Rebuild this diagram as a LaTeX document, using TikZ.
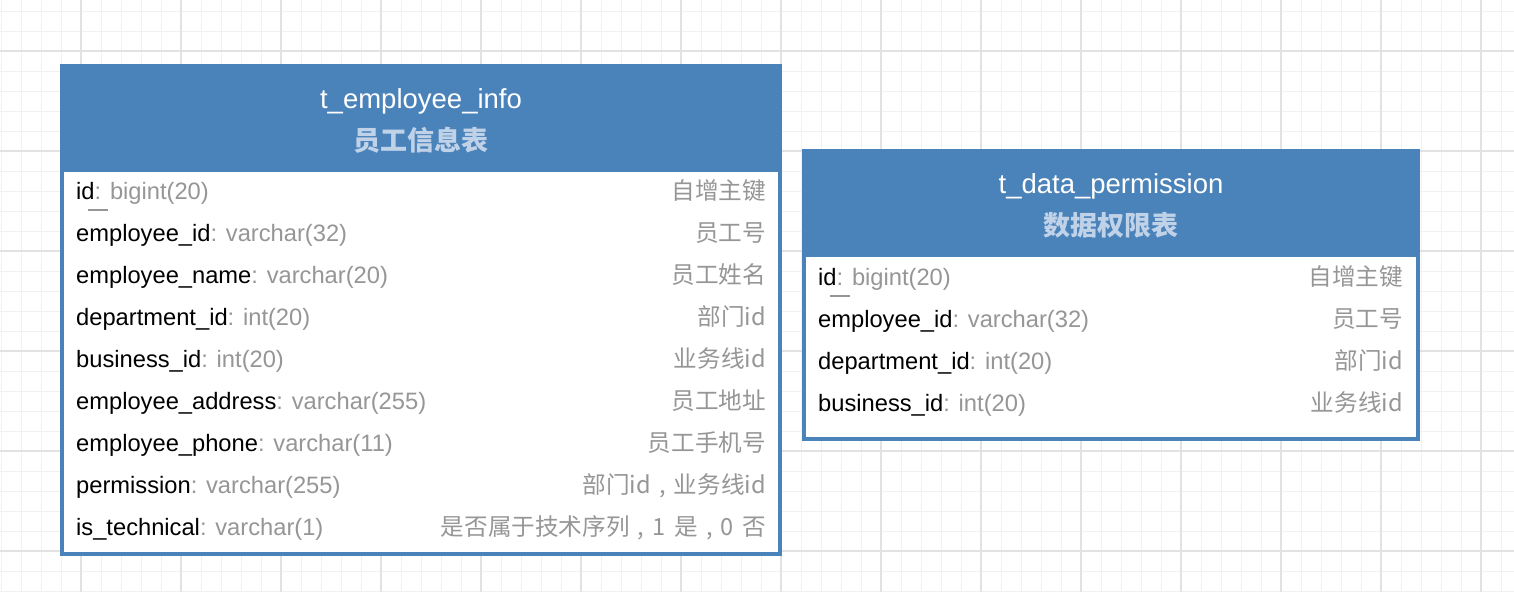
\documentclass[tikz,border=0pt]{standalone}
\usepackage{fontspec}
\setmainfont{Liberation Sans}
\newfontfamily\cjk{Noto Sans CJK SC}
\newcommand\cjkgap{\hspace{0.35em}}
\definecolor{hdrblue}{RGB}{74,130,186}
\definecolor{subblue}{RGB}{192,210,232}
\definecolor{typegray}{RGB}{150,150,150}
\definecolor{gridminor}{RGB}{241,241,241}
\definecolor{gridmajor}{RGB}{226,226,226}
\tikzset{
  frame/.style={fill=hdrblue, draw=none, inner sep=0pt, anchor=north west},
  bodybox/.style={fill=white, draw=none, inner sep=0pt, anchor=north west},
  field/.style={anchor=base west, inner sep=0pt, font=\fontsize{23.7}{28}\selectfont},
  note/.style={anchor=base east, inner sep=0pt, text=typegray, font=\fontsize{23.6}{28}\selectfont\cjk},
  ttl/.style={anchor=base, inner sep=0pt, text=white, font=\fontsize{27.5}{32}\selectfont},
  subttl/.style={anchor=center, inner sep=0pt, text=subblue, font=\fontsize{27}{32}\selectfont\cjk\bfseries},
  pkline/.style={draw=typegray, line width=1.5pt}
}
\begin{document}
\begin{tikzpicture}[x=1pt, y=-1pt]
\useasboundingbox (0,0) rectangle (1514,592);
\fill[white] (0,0) rectangle (1514,592);
% grid
\foreach \x in {1,21,...,1501} \draw[gridminor, line width=1pt] (\x,0) -- (\x,592);
\foreach \y in {11,31,...,591} \draw[gridminor, line width=1pt] (0,\y) -- (1514,\y);
\foreach \x in {81,181,...,1481} \draw[gridmajor, line width=1.5pt] (\x,0) -- (\x,592);
\foreach \y in {51,151,...,551} \draw[gridmajor, line width=1.5pt] (0,\y) -- (1514,\y);

% table 1
\node[frame, minimum width=722pt, minimum height=492pt] (t1) at (60,64) {};
\node[bodybox, minimum width=714pt, minimum height=380pt] (t1b) at (64,172) {};
\node[ttl] (t1t) at (421,108) {t\_employee\_info};
\node[subttl] (t1s) at (421,140) {员工信息表};

\node[field] (f1a) at (76,199) {id\textcolor{typegray}{: bigint(20)}};
\node[field] (f1b) at (76,241) {employee\_id\textcolor{typegray}{: varchar(32)}};
\node[field] (f1c) at (76,283) {employee\_name\textcolor{typegray}{: varchar(20)}};
\node[field] (f1d) at (76,325) {department\_id\textcolor{typegray}{: int(20)}};
\node[field] (f1e) at (76,367) {business\_id\textcolor{typegray}{: int(20)}};
\node[field] (f1f) at (76,409) {employee\_address\textcolor{typegray}{: varchar(255)}};
\node[field] (f1g) at (76,451) {employee\_phone\textcolor{typegray}{: varchar(11)}};
\node[field] (f1h) at (76,493) {permission\textcolor{typegray}{: varchar(255)}};
\node[field] (f1i) at (76,535) {is\_technical\textcolor{typegray}{: varchar(1)}};

\node[note] (n1a) at (766,199) {自增主键};
\node[note] (n1b) at (766,241) {员工号};
\node[note] (n1c) at (766,283) {员工姓名};
\node[note] (n1d) at (766,325) {部门id};
\node[note] (n1e) at (766,367) {业务线id};
\node[note] (n1f) at (766,409) {员工地址};
\node[note] (n1g) at (766,451) {员工手机号};
\node[note] (n1h) at (766,493) {部门id\cjkgap,\cjkgap 业务线id};
\node[note] (n1i) at (766,535) {是否属于技术序列\cjkgap,\cjkgap 1\cjkgap 是\cjkgap,\cjkgap 0\cjkgap 否};
\path[pkline] (88,210) -- (108,210);

% table 2
\node[frame, minimum width=618pt, minimum height=292pt] (t2) at (802,149) {};
\node[bodybox, minimum width=610pt, minimum height=180pt] (t2b) at (806,257) {};
\node[ttl] (t2t) at (1111,193) {t\_data\_permission};
\node[subttl] (t2s) at (1111,225) {数据权限表};

\node[field] (f2a) at (818,285) {id\textcolor{typegray}{: bigint(20)}};
\node[field] (f2b) at (818,327) {employee\_id\textcolor{typegray}{: varchar(32)}};
\node[field] (f2c) at (818,369) {department\_id\textcolor{typegray}{: int(20)}};
\node[field] (f2d) at (818,411) {business\_id\textcolor{typegray}{: int(20)}};

\node[note] (n2a) at (1403,285) {自增主键};
\node[note] (n2b) at (1403,327) {员工号};
\node[note] (n2c) at (1403,369) {部门id};
\node[note] (n2d) at (1403,411) {业务线id};
\path[pkline] (830,296) -- (850,296);
\end{tikzpicture}
\end{document}
